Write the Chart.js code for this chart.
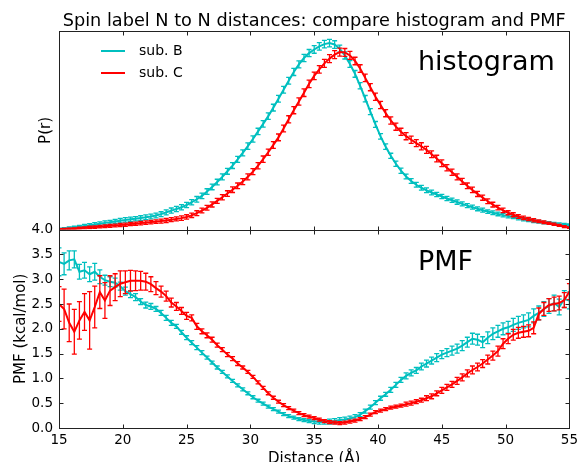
<!DOCTYPE html>
<html>
<head>
<meta charset="utf-8">
<script src="https://cdn.jsdelivr.net/npm/chart.js@4.4.1/dist/chart.umd.min.js"></script>
<style>
  html, body { margin: 0; padding: 0; background: #fff; }
  canvas { display: block; }
</style>
</head>
<body>
<canvas id="spinChart" width="582" height="462"></canvas>
<script>
// distance bins (Angstrom)
const distances = [
    15, 15.4, 15.8, 16.2, 16.6, 17, 17.4, 17.8, 18.2, 18.6,
    19, 19.4, 19.8, 20.2, 20.6, 21, 21.4, 21.8, 22.2, 22.6,
    23, 23.4, 23.8, 24.2, 24.6, 25, 25.4, 25.8, 26.2, 26.6,
    27, 27.4, 27.8, 28.2, 28.6, 29, 29.4, 29.8, 30.2, 30.6,
    31, 31.4, 31.8, 32.2, 32.6, 33, 33.4, 33.8, 34.2, 34.6,
    35, 35.4, 35.8, 36.2, 36.6, 37, 37.4, 37.8, 38.2, 38.6,
    39, 39.4, 39.8, 40.2, 40.6, 41, 41.4, 41.8, 42.2, 42.6,
    43, 43.4, 43.8, 44.2, 44.6, 45, 45.4, 45.8, 46.2, 46.6,
    47, 47.4, 47.8, 48.2, 48.6, 49, 49.4, 49.8, 50.2, 50.6,
    51, 51.4, 51.8, 52.2, 52.6, 53, 53.4, 53.8, 54.2, 54.6,
    55
];

// histogram P(r), relative units
const histB = [
    0.003, 0.005, 0.008, 0.011, 0.014, 0.018, 0.022, 0.026, 0.030, 0.034,
    0.037, 0.041, 0.045, 0.049, 0.052, 0.055, 0.058, 0.062, 0.066, 0.071,
    0.078, 0.087, 0.096, 0.104, 0.113, 0.124, 0.138, 0.153, 0.170, 0.192,
    0.215, 0.240, 0.266, 0.294, 0.323, 0.354, 0.387, 0.421, 0.457, 0.495,
    0.533, 0.572, 0.615, 0.660, 0.705, 0.750, 0.795, 0.833, 0.865, 0.890,
    0.908, 0.924, 0.935, 0.940, 0.933, 0.912, 0.878, 0.835, 0.785, 0.725,
    0.660, 0.595, 0.530, 0.470, 0.418, 0.372, 0.332, 0.297, 0.268, 0.245,
    0.226, 0.211, 0.198, 0.187, 0.177, 0.167, 0.157, 0.148, 0.139, 0.130,
    0.121, 0.113, 0.105, 0.098, 0.091, 0.085, 0.079, 0.073, 0.068, 0.063,
    0.057, 0.052, 0.048, 0.044, 0.040, 0.036, 0.033, 0.030, 0.027, 0.025,
    0.023
];
const histC = [
    0.002, 0.003, 0.004, 0.005, 0.007, 0.009, 0.011, 0.013, 0.015, 0.017,
    0.019, 0.021, 0.023, 0.025, 0.028, 0.030, 0.033, 0.035, 0.038, 0.040,
    0.043, 0.046, 0.050, 0.054, 0.058, 0.064, 0.072, 0.083, 0.096, 0.110,
    0.127, 0.145, 0.163, 0.182, 0.201, 0.221, 0.242, 0.266, 0.292, 0.322,
    0.355, 0.390, 0.427, 0.465, 0.510, 0.556, 0.602, 0.646, 0.690, 0.735,
    0.775, 0.808, 0.838, 0.862, 0.882, 0.895, 0.893, 0.878, 0.850, 0.812,
    0.765, 0.718, 0.670, 0.628, 0.587, 0.550, 0.519, 0.493, 0.471, 0.453,
    0.436, 0.420, 0.402, 0.380, 0.358, 0.335, 0.312, 0.289, 0.266, 0.243,
    0.221, 0.200, 0.180, 0.161, 0.143, 0.126, 0.111, 0.097, 0.085, 0.075,
    0.066, 0.059, 0.053, 0.047, 0.042, 0.037, 0.032, 0.027, 0.021, 0.015,
    0.010
];
const histErrB = [
    0.004, 0.005, 0.006, 0.006, 0.007, 0.008, 0.008, 0.009, 0.009, 0.010,
    0.010, 0.010, 0.011, 0.011, 0.011, 0.011, 0.012, 0.012, 0.012, 0.012,
    0.012, 0.013, 0.013, 0.013, 0.013, 0.013, 0.013, 0.014, 0.014, 0.014,
    0.014, 0.014, 0.015, 0.015, 0.015, 0.015, 0.015, 0.016, 0.016, 0.016,
    0.016, 0.016, 0.017, 0.017, 0.017, 0.017, 0.018, 0.018, 0.018, 0.018,
    0.019, 0.019, 0.019, 0.019, 0.019, 0.018, 0.018, 0.017, 0.017, 0.016,
    0.016, 0.015, 0.015, 0.014, 0.014, 0.013, 0.013, 0.013, 0.012, 0.012,
    0.012, 0.012, 0.012, 0.012, 0.011, 0.011, 0.011, 0.011, 0.011, 0.010,
    0.010, 0.010, 0.010, 0.010, 0.009, 0.009, 0.009, 0.009, 0.009, 0.008,
    0.008, 0.008, 0.008, 0.008, 0.007, 0.007, 0.007, 0.007, 0.007, 0.006,
    0.006
];
const histErrC = [
    0.003, 0.003, 0.004, 0.004, 0.005, 0.005, 0.006, 0.006, 0.006, 0.007,
    0.007, 0.007, 0.008, 0.008, 0.008, 0.008, 0.009, 0.009, 0.009, 0.009,
    0.010, 0.010, 0.010, 0.010, 0.011, 0.011, 0.011, 0.012, 0.012, 0.012,
    0.013, 0.013, 0.013, 0.014, 0.014, 0.014, 0.015, 0.015, 0.015, 0.016,
    0.016, 0.016, 0.017, 0.017, 0.017, 0.018, 0.018, 0.018, 0.019, 0.019,
    0.019, 0.019, 0.020, 0.020, 0.020, 0.020, 0.020, 0.020, 0.019, 0.019,
    0.019, 0.018, 0.018, 0.018, 0.018, 0.018, 0.018, 0.018, 0.018, 0.018,
    0.018, 0.018, 0.018, 0.017, 0.017, 0.017, 0.016, 0.016, 0.015, 0.015,
    0.014, 0.014, 0.013, 0.013, 0.012, 0.012, 0.011, 0.011, 0.010, 0.010,
    0.009, 0.009, 0.008, 0.008, 0.007, 0.007, 0.006, 0.006, 0.005, 0.005,
    0.004
];

// potential of mean force (kcal/mol)
const pmfB = [
    3.35, 3.31, 3.38, 3.40, 3.15, 3.18, 3.10, 3.15, 3.05, 2.98,
    2.95, 2.93, 2.86, 2.76, 2.70, 2.64, 2.55, 2.48, 2.45, 2.40,
    2.32, 2.22, 2.12, 2.05, 1.93, 1.82, 1.72, 1.62, 1.52, 1.42,
    1.32, 1.22, 1.13, 1.04, 0.95, 0.86, 0.78, 0.70, 0.62, 0.55,
    0.49, 0.43, 0.38, 0.33, 0.28, 0.24, 0.21, 0.18, 0.16, 0.14,
    0.13, 0.12, 0.12, 0.13, 0.14, 0.16, 0.17, 0.19, 0.22, 0.27,
    0.34, 0.42, 0.51, 0.60, 0.68, 0.77, 0.87, 0.97, 1.05, 1.11,
    1.16, 1.24, 1.30, 1.36, 1.42, 1.48, 1.52, 1.56, 1.60, 1.66,
    1.73, 1.80, 1.78, 1.73, 1.82, 1.90, 1.95, 2.00, 2.03, 2.08,
    2.12, 2.15, 2.18, 2.26, 2.32, 2.40, 2.46, 2.52, 2.44, 2.60,
    2.57
];
const pmfC = [
    2.50, 2.40, 2.12, 1.94, 2.17, 2.34, 2.17, 2.44, 2.74, 2.57,
    2.77, 2.84, 2.91, 2.94, 2.97, 2.97, 2.97, 2.95, 2.90, 2.82,
    2.75, 2.66, 2.53, 2.45, 2.36, 2.26, 2.22, 2.05, 1.95, 1.87,
    1.78, 1.67, 1.58, 1.48, 1.40, 1.30, 1.22, 1.13, 1.03, 0.92,
    0.81, 0.70, 0.61, 0.53, 0.46, 0.40, 0.35, 0.30, 0.26, 0.23,
    0.20, 0.17, 0.14, 0.12, 0.11, 0.10, 0.11, 0.13, 0.15, 0.18,
    0.22, 0.27, 0.32, 0.35, 0.38, 0.41, 0.43, 0.45, 0.48, 0.50,
    0.53, 0.56, 0.60, 0.64, 0.70, 0.76, 0.82, 0.88, 0.95, 1.02,
    1.10, 1.17, 1.23, 1.30, 1.38, 1.46, 1.55, 1.70, 1.80, 1.88,
    1.92, 1.94, 1.96, 2.02, 2.30, 2.40, 2.48, 2.50, 2.52, 2.58,
    2.75
];
const pmfErrB = [
    0.28, 0.22, 0.19, 0.17, 0.15, 0.16, 0.15, 0.17, 0.14, 0.10,
    0.10, 0.09, 0.08, 0.08, 0.07, 0.07, 0.06, 0.06, 0.06, 0.05,
    0.05, 0.05, 0.05, 0.04, 0.04, 0.04, 0.04, 0.04, 0.04, 0.03,
    0.03, 0.03, 0.03, 0.03, 0.03, 0.03, 0.03, 0.03, 0.03, 0.03,
    0.03, 0.03, 0.03, 0.03, 0.03, 0.03, 0.03, 0.03, 0.03, 0.03,
    0.04, 0.04, 0.04, 0.05, 0.05, 0.05, 0.05, 0.05, 0.05, 0.04,
    0.04, 0.04, 0.04, 0.04, 0.04, 0.05, 0.05, 0.05, 0.06, 0.06,
    0.06, 0.07, 0.07, 0.07, 0.08, 0.08, 0.08, 0.09, 0.09, 0.10,
    0.10, 0.11, 0.11, 0.11, 0.12, 0.12, 0.12, 0.12, 0.12, 0.13,
    0.13, 0.13, 0.14, 0.14, 0.14, 0.15, 0.15, 0.16, 0.16, 0.17,
    0.17
];
const pmfErrC = [
    0.35, 0.40, 0.38, 0.45, 0.38, 0.37, 0.58, 0.42, 0.33, 0.36,
    0.30, 0.27, 0.26, 0.23, 0.21, 0.20, 0.19, 0.17, 0.15, 0.13,
    0.11, 0.10, 0.09, 0.08, 0.07, 0.07, 0.06, 0.06, 0.05, 0.05,
    0.05, 0.04, 0.04, 0.04, 0.04, 0.04, 0.03, 0.03, 0.03, 0.03,
    0.03, 0.03, 0.03, 0.03, 0.03, 0.03, 0.03, 0.03, 0.03, 0.03,
    0.03, 0.03, 0.03, 0.03, 0.03, 0.03, 0.03, 0.03, 0.03, 0.03,
    0.03, 0.03, 0.03, 0.03, 0.03, 0.03, 0.03, 0.03, 0.04, 0.04,
    0.04, 0.04, 0.05, 0.05, 0.05, 0.06, 0.06, 0.06, 0.07, 0.07,
    0.07, 0.08, 0.08, 0.08, 0.09, 0.09, 0.10, 0.10, 0.10, 0.11,
    0.11, 0.11, 0.12, 0.12, 0.12, 0.13, 0.13, 0.14, 0.14, 0.15,
    0.16
];

const seriesNames = ['sub. B', 'sub. C'];
const seriesColors = ['#00BFBF', '#FF0000'];
const xTicks = [15, 20, 25, 30, 35, 40, 45, 50, 55];

Chart.defaults.font.family = "'DejaVu Sans', sans-serif";
Chart.defaults.color = '#000';

function toPoints(values) {
    return values.map((v, i) => ({ x: distances[i], y: v }));
}

function makeDataset(name, color, axis, values, errors, order) {
    return {
        label: name,
        data: toPoints(values),
        errors: errors,
        yAxisID: axis,
        borderColor: color,
        backgroundColor: color,
        borderWidth: 2,
        pointRadius: 0,
        tension: 0,
        fill: false,
        order: order
    };
}

// vertical error bars with small caps, drawn right after each line
const errorBars = {
    id: 'errorBars',
    afterDatasetDraw(chart, args) {
        const ds = chart.data.datasets[args.index];
        if (!ds.errors) return;
        const xs = chart.scales.x;
        const ys = chart.scales[ds.yAxisID];
        const c = chart.ctx;
        c.save();
        c.beginPath();
        c.rect(chart.chartArea.left, ys.top, chart.chartArea.right - chart.chartArea.left, ys.bottom - ys.top);
        c.clip();
        c.strokeStyle = ds.borderColor;
        c.lineWidth = 1.3;
        ds.data.forEach((p, i) => {
            const px = xs.getPixelForValue(p.x);
            const top = ys.getPixelForValue(p.y + ds.errors[i]);
            const bot = ys.getPixelForValue(p.y - ds.errors[i]);
            c.beginPath();
            c.moveTo(px, top); c.lineTo(px, bot);
            c.moveTo(px - 2.5, top); c.lineTo(px + 2.5, top);
            c.moveTo(px - 2.5, bot); c.lineTo(px + 2.5, bot);
            c.stroke();
        });
        c.restore();
    }
};

// panel frames, inward ticks, legend and panel labels
const panelDecor = {
    id: 'panelDecor',
    afterDraw(chart) {
        const c = chart.ctx;
        const area = chart.chartArea;
        const xs = chart.scales.x;
        const left = Math.round(area.left) + 0.5;
        const right = Math.round(area.right) + 0.5;
        c.save();
        c.strokeStyle = '#222';
        c.lineWidth = 1;
        ['yH', 'yP'].forEach(id => {
            const s = chart.scales[id];
            const top = Math.round(s.top) + 0.5;
            const bot = Math.round(s.bottom) + 0.5;
            c.strokeRect(left, top, right - left, bot - top);
            xTicks.forEach(v => {
                const px = Math.round(xs.getPixelForValue(v)) + 0.5;
                c.beginPath();
                c.moveTo(px, top); c.lineTo(px, top + 4);
                c.moveTo(px, bot); c.lineTo(px, bot - 4);
                c.stroke();
            });
        });
        const yP = chart.scales.yP;
        yP.ticks.forEach(t => {
            const py = Math.round(yP.getPixelForValue(t.value)) + 0.5;
            c.beginPath();
            c.moveTo(left, py); c.lineTo(left + 4, py);
            c.moveTo(right, py); c.lineTo(right - 4, py);
            c.stroke();
        });

        // legend
        c.font = "14px 'DejaVu Sans'";
        c.textBaseline = 'middle';
        c.textAlign = 'left';
        [51, 73].forEach((ly, i) => {
            c.strokeStyle = seriesColors[i];
            c.lineWidth = 2;
            c.beginPath();
            c.moveTo(101, ly); c.lineTo(125, ly);
            c.stroke();
            c.fillStyle = '#000';
            c.fillText(seriesNames[i], 139, ly);
        });

        // panel labels
        c.font = "27px 'DejaVu Sans'";
        c.textBaseline = 'alphabetic';
        c.fillStyle = '#000';
        c.fillText('histogram', 418, 70);
        c.fillText('PMF', 418, 270);
        c.restore();
    }
};

const ctx = document.getElementById('spinChart').getContext('2d');
const spinChart = new Chart(ctx, {
    type: 'line',
    data: {
        datasets: [
            makeDataset(seriesNames[0], seriesColors[0], 'yH', histB, histErrB, 2),
            makeDataset(seriesNames[1], seriesColors[1], 'yH', histC, histErrC, 1),
            makeDataset(seriesNames[0], seriesColors[0], 'yP', pmfB, pmfErrB, 2),
            makeDataset(seriesNames[1], seriesColors[1], 'yP', pmfC, pmfErrC, 1)
        ]
    },
    options: {
        responsive: false,
        animation: false,
        events: [],
        layout: { padding: { top: 0, left: 0, right: 7, bottom: 0 } },
        plugins: {
            legend: { display: false },
            tooltip: { enabled: false },
            title: {
                display: true,
                fullSize: false,
                text: 'Spin label N to N distances: compare histogram and PMF',
                color: '#000',
                font: { size: 17.7, weight: 'normal' },
                padding: { top: 11, bottom: -1 }
            }
        },
        scales: {
            x: {
                type: 'linear',
                min: 15,
                max: 55,
                ticks: { stepSize: 5, color: '#000', font: { size: 13.5 }, padding: 4, maxRotation: 0, autoSkip: false },
                grid: { display: false, drawTicks: false },
                border: { display: false },
                title: { display: true, text: 'Distance (Å)', color: '#000', font: { size: 15 }, padding: { top: 0, bottom: -6 } },
                afterFit: s => { s.height = 34; }
            },
            yP: {
                type: 'linear',
                position: 'left',
                stack: 'panels',
                stackWeight: 1,
                min: 0,
                max: 4,
                ticks: { stepSize: 0.5, autoSkip: false, color: '#000', font: { size: 13.5 }, padding: 6, callback: v => v.toFixed(1) },
                grid: { display: false, drawTicks: false },
                border: { display: false },
                title: { display: true, text: 'PMF (kcal/mol)', color: '#000', font: { size: 15 }, padding: { top: 12, bottom: 0 } },
                afterFit: s => { s.width = 59; }
            },
            yH: {
                type: 'linear',
                position: 'left',
                stack: 'panels',
                stackWeight: 1,
                min: 0,
                max: 1,
                ticks: { display: false },
                grid: { display: false, drawTicks: false },
                border: { display: false },
                title: { display: true, text: 'P(r)', color: '#000', font: { size: 15 }, padding: { top: 37, bottom: 0 } },
                afterFit: s => { s.width = 59; }
            }
        }
    },
    plugins: [errorBars, panelDecor]
});
</script>
</body>
</html>
